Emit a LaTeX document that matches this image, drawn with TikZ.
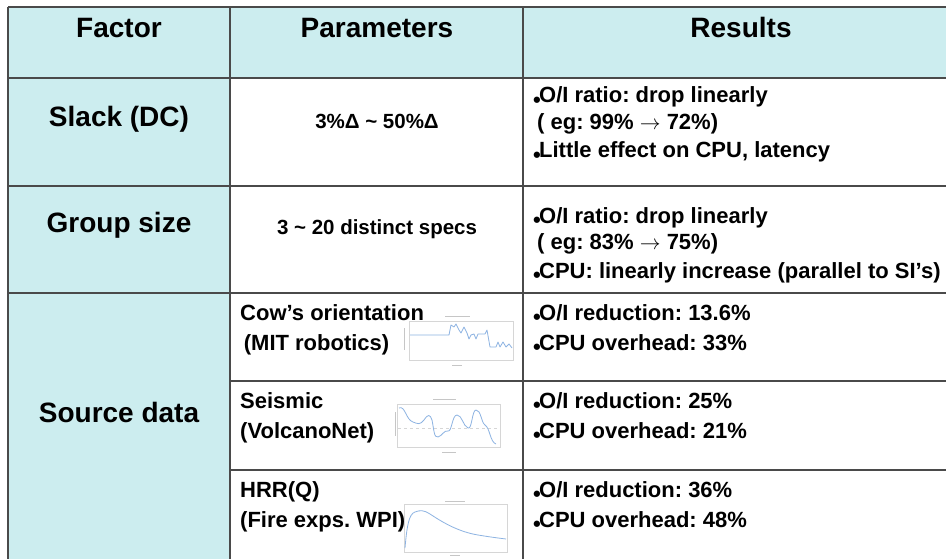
\documentclass[tikz,border=0pt]{standalone}
\usepackage{fontspec}
\setmainfont{Liberation Sans}
\usepackage{graphicx}
\frenchspacing
\definecolor{cellcyan}{HTML}{CCEDEF}
\definecolor{rulegray}{HTML}{4A4A4A}
\definecolor{plotblue}{HTML}{8DB3E2}
\definecolor{gridgray}{HTML}{D6D6D6}
\newcommand\dotmark{\raisebox{-0.22em}{\textbullet}\hspace{-0.08em}}
\newcommand\thinarrow{$\rightarrow$}
\begin{document}
\begin{tikzpicture}[x=1pt,y=-1pt,
  rulestyle/.style={draw=rulegray,line width=1.6pt},
  headtext/.style={font=\fontsize{28}{30}\selectfont\bfseries,inner sep=0pt,anchor=base},
  factortext/.style={font=\fontsize{28}{30}\selectfont\bfseries,inner sep=0pt,anchor=base},
  paramtext/.style={font=\fontsize{20.5}{24}\selectfont\bfseries,inner sep=0pt,anchor=base},
  celltext/.style={font=\fontsize{22}{24}\selectfont\bfseries,inner sep=0pt,anchor=base west},
  chartbox/.style={draw=gridgray,line width=0.5pt,fill=white},
  chartline/.style={draw=plotblue,line width=0.8pt,line join=round},
  tinylabel/.style={draw=gray!45,line width=0.9pt}]
\useasboundingbox (0,0) rectangle (946,559);
\begin{scope}
\clip (0,0) rectangle (946,559);
% shaded header row and factor column
\fill[cellcyan] (8,7) rectangle (960,78);
\fill[cellcyan] (8,78) rectangle (230,570);
% grid rules
\draw[rulestyle] (8,7) -- (960,7);
\draw[rulestyle] (8,78) -- (960,78);
\draw[rulestyle] (8,186) -- (960,186);
\draw[rulestyle] (8,293) -- (960,293);
\draw[rulestyle] (230,381) -- (960,381);
\draw[rulestyle] (230,470) -- (960,470);
\draw[rulestyle] (8,7) -- (8,570);
\draw[rulestyle] (230,7) -- (230,570);
\draw[rulestyle] (523,7) -- (523,570);
\end{scope}

% header
\node[headtext] (hfactor) at (119,38) {Factor};
\node[headtext] (hparam) at (377,38) {Parameters};
\node[headtext] (hresult) at (741,38) {Results};

% factor column
\node[factortext] (fslack) at (119,127) {Slack (DC)};
\node[factortext] (fgroup) at (119,233) {Group size};
\node[factortext] (fsource) at (119,422) {Source data};

% parameters column
\node[paramtext] (pslack) at (377,129) {3\%Δ \textasciitilde{} 50\%Δ};
\node[paramtext] (pgroup) at (377,235) {3 \textasciitilde{} 20 distinct specs};
\node[celltext] (pcow1) at (240,320) {Cow’s orientation};
\node[celltext] (pcow2) at (240,350) {\,(MIT robotics)};
\node[celltext] (pseis1) at (240,408) {Seismic};
\node[celltext] (pseis2) at (240,438) {(VolcanoNet)};
\node[celltext] (phrr1) at (240,497) {HRR(Q)};
\node[celltext] (phrr2) at (240,527) {(Fire exps. WPI)};

% results column
\node[celltext] (rs1) at (533,103) {\dotmark O/I ratio: drop linearly};
\node[celltext] (rs2) at (537,130) {( eg: 99\% \thinarrow{} 72\%)};
\node[celltext] (rs3) at (533,158) {\dotmark Little effect on CPU, latency};
\node[celltext] (rg1) at (533,223) {\dotmark O/I ratio: drop linearly};
\node[celltext] (rg2) at (537,250) {( eg: 83\% \thinarrow{} 75\%)};
\node[celltext] (rg3) at (533,278) {\dotmark CPU: linearly increase (parallel to SI’s)};
\node[celltext] (rc1) at (533,320) {\dotmark O/I reduction: 13.6\%};
\node[celltext] (rc2) at (533,350) {\dotmark CPU overhead: 33\%};
\node[celltext] (rv1) at (533,408) {\dotmark O/I reduction: 25\%};
\node[celltext] (rv2) at (533,438) {\dotmark CPU overhead: 21\%};
\node[celltext] (rh1) at (533,497) {\dotmark O/I reduction: 36\%};
\node[celltext] (rh2) at (533,527) {\dotmark CPU overhead: 48\%};

% mini chart: cow orientation
\draw[chartbox] (409,321) rectangle (513,360);
\draw[tinylabel] (445,316) -- (470,316);
\draw[tinylabel] (452,365) -- (462,365);
\draw[tinylabel] (404,328) -- (404,350);
\draw[chartline] (410,335) -- (449,335) -- (451,325) -- (454,327) -- (456,324) -- (459,330)
  -- (461,333) -- (464,327) -- (467,333) -- (469,339) -- (471,335) -- (474,334) -- (476,339)
  -- (478,334) -- (485,334) -- (487,330) -- (490,347) -- (496,347) -- (498,342) -- (500,347)
  -- (503,342) -- (506,347) -- (509,344) -- (512,348);

% mini chart: seismic
\draw[chartbox] (397,404) rectangle (500,447);
\draw[tinylabel] (433,399) -- (456,399);
\draw[tinylabel] (442,452) -- (456,452);
\draw[tinylabel] (395,412) -- (395,436);
\draw[gridgray,dashed,line width=0.6pt] (398,428) -- (499,428);
\draw[chartline] (399,408) .. controls (405,405) and (406,420) .. (413,422)
  .. controls (418,424) and (420,425) .. (424,420)
  .. controls (428,414) and (430,414) .. (432,420)
  .. controls (434,430) and (434,438) .. (438,437)
  .. controls (442,436) and (444,430) .. (448,431)
  .. controls (452,432) and (452,415) .. (457,415)
  .. controls (462,415) and (463,426) .. (468,428)
  .. controls (472,430) and (472,410) .. (476,410)
  .. controls (481,410) and (481,422) .. (485,425)
  .. controls (490,428) and (490,442) .. (496,444);

% mini chart: heat release rate
\draw[chartbox] (404,504) rectangle (507,552);
\draw[tinylabel] (445,501) -- (465,501);
\draw[tinylabel] (450,555) -- (460,555);
\draw[chartline] (405,548) .. controls (407,525) and (409,514) .. (415,512)
  .. controls (420,510) and (424,510) .. (430,514)
  .. controls (445,524) and (460,532) .. (478,535)
  .. controls (490,537) and (498,538) .. (506,539);
\end{tikzpicture}
\end{document}
